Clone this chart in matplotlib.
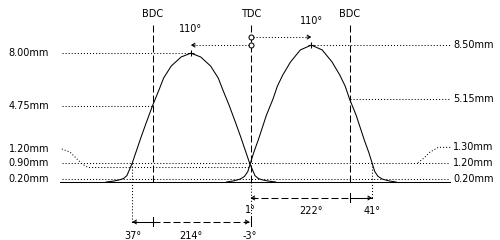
import matplotlib.pyplot as plt

plt.rcParams['font.family'] = 'DejaVu Sans'
plt.rcParams['font.size'] = 7
plt.rcParams['lines.scale_dashes'] = False

# crank angle in degrees (TDC = 0, BDC = -180 / +180) against valve lift in mm
exhaust_deg = [-265, -251, -240, -233, -227, -222, -217, -210, -201, -192, -180,
               -168, -160, -146, -128, -110, -92, -74, -60, -52, -40, -28, -19, -10, -3,
               2, 7, 13, 20, 31, 45]
exhaust_lift = [0.0, 0.06, 0.14, 0.22, 0.40, 0.80, 1.20, 1.90, 2.80, 3.65, 4.75,
                5.75, 6.45, 7.20, 7.76, 8.00, 7.76, 7.20, 6.45, 5.75, 4.75, 3.65, 2.80, 1.90, 1.20,
                0.80, 0.40, 0.22, 0.14, 0.06, 0.0]
intake_deg = [-45, -32, -20, -12, -6, -1, 5, 13, 28, 40, 48, 58, 72, 90, 110,
              130, 148, 162, 172, 180, 192, 207, 215, 221, 226, 232, 240, 252, 265]
intake_lift = [0.0, 0.07, 0.18, 0.35, 0.65, 1.20, 1.85, 2.60, 4.15, 5.15, 5.95, 6.65, 7.45, 8.20, 8.50,
               8.20, 7.45, 6.65, 5.95, 5.15, 4.15, 2.60, 1.85, 1.20, 0.65, 0.35, 0.18, 0.07, 0.0]

ex_open, ex_close = -217, -3
in_open, in_close = -1, 221
ex_center, in_center = -110, 110
ex_peak, in_peak = 8.00, 8.50
ex_bdc, in_bdc = 4.75, 5.15
check_lift = 1.20
ex_small = 0.90
lash_lift = 0.20
right_small = 1.30
markers = ['BDC', 'TDC', 'BDC']
marker_deg = [-180, 0, 180]

# layout (data units)
X_LEFT, X_RIGHT, X_BASE = -346, 364, -349
LBL_L, LBL_R = -369, 369
TOP = 9.94
ROW_EX, ROW_IN = -2.48, -0.99

DOT = (0, (0.75, 1.45))
DASH = (0, (5, 2.2))
K = 'black'
LW = 0.75

fig = plt.figure(figsize=(5, 2.4), dpi=100)
ax = fig.add_axes([0, 0, 1, 1])
ax.set_xlim(-459, 455)
ax.set_ylim(-3.60, 11.30)
ax.axis('off')


def dotted(xs, ys):
    ax.plot(xs, ys, color=K, lw=LW, linestyle=DOT)


def head(x, y, d):
    ax.annotate('', xy=(x, y), xytext=(x - d * 8, y),
                arrowprops=dict(arrowstyle='->,head_length=0.32,head_width=0.2',
                                lw=LW, color=K, shrinkA=0, shrinkB=0))


def tick(x, y):
    ax.plot([x, x], [y - 0.28, y + 0.28], color=K, lw=LW)


# cam profiles
ax.plot(exhaust_deg, exhaust_lift, color=K, lw=LW)
ax.plot(intake_deg, intake_lift, color=K, lw=LW)
ax.plot([ex_center], [ex_peak], marker='+', color=K, ms=5, mew=LW)
ax.plot([in_center], [in_peak], marker='+', color=K, ms=5, mew=LW)

# base line and lift levels
ax.plot([X_BASE, X_RIGHT], [0, 0], color=K, lw=LW)
dotted([X_LEFT, X_RIGHT], [lash_lift, lash_lift])
dotted([X_LEFT, X_RIGHT], [check_lift, check_lift])
dotted([X_LEFT, ex_center], [ex_peak, ex_peak])
dotted([X_LEFT, -180], [ex_bdc, ex_bdc])
dotted([X_LEFT, -331, -320, -309, -298, 0], [2.05, 1.86, 1.49, 1.12, ex_small, ex_small])
dotted([in_center, X_RIGHT], [in_peak, in_peak])
dotted([180, X_RIGHT], [in_bdc, in_bdc])
dotted([X_RIGHT, 342, 327, 316, 305], [2.15, 2.15, 1.86, 1.49, check_lift])

left_vals = [ex_peak, ex_bdc, check_lift, ex_small, lash_lift]
left_rows = [ex_peak, ex_bdc, 2.05, check_lift, lash_lift]
for v, r in zip(left_vals, left_rows):
    ax.text(LBL_L, r, f'{v:.2f}mm', ha='right', va='center')
right_vals = [in_peak, in_bdc, right_small, check_lift, lash_lift]
right_rows = [in_peak, in_bdc, 2.15, check_lift, lash_lift]
for v, r in zip(right_vals, right_rows):
    ax.text(LBL_R, r, f'{v:.2f}mm', ha='left', va='center')

# dead centres
for name, d in zip(markers, marker_deg):
    ax.plot([d, d], [0, TOP], color=K, lw=LW, linestyle=DASH)
    ax.text(d, 10.4, name, ha='center', va='center')

# lobe centre markers at TDC
ax.plot([0, 0], [9.0, 8.5], linestyle='none', marker='o', mfc='white', mec=K,
        ms=3.6, mew=LW)
dotted([3, in_center], [9.0, 9.0])
head(in_center, 9.0, 1)
dotted([-3, ex_center], [8.5, 8.5])
head(ex_center, 8.5, -1)
ax.text(ex_center, 9.5, f'{in_center}°', ha='center', va='center')
ax.text(in_center, 10.0, f'{in_center}°', ha='center', va='center')

# timing drops
dotted([0, 0], [0, ROW_EX])
dotted([ex_open, ex_open], [check_lift, ROW_EX])
dotted([in_close, in_close], [check_lift, ROW_IN])

# exhaust duration arrow
ax.plot([ex_open, -180], [ROW_EX, ROW_EX], color=K, lw=LW)
ax.plot([-180, ex_close], [ROW_EX, ROW_EX], color=K, lw=LW, linestyle=DASH)
head(ex_open, ROW_EX, -1)
head(ex_close, ROW_EX, 1)
tick(-180, ROW_EX)
tick(0, ROW_EX)

# intake duration arrow
ax.plot([in_open, 180], [ROW_IN, ROW_IN], color=K, lw=LW, linestyle=DASH)
ax.plot([180, in_close], [ROW_IN, ROW_IN], color=K, lw=LW)
head(in_open, ROW_IN, -1)
head(in_close, ROW_IN, 1)
tick(180, ROW_IN)

ax.text(ex_open, -3.35, f'{-180 - ex_open}°', ha='center', va='center')
ax.text(ex_center, -3.35, f'{ex_close - ex_open}°', ha='center', va='center')
ax.text(ex_close, -3.35, f'{ex_close}°', ha='center', va='center')
ax.text(in_open, -1.75, f'{-in_open}°', ha='center', va='center')
ax.text(in_center, -1.8, f'{in_close - in_open}°', ha='center', va='center')
ax.text(in_close, -1.8, f'{in_close - 180}°', ha='center', va='center')

fig.savefig('out.png', dpi=100, facecolor='white')
